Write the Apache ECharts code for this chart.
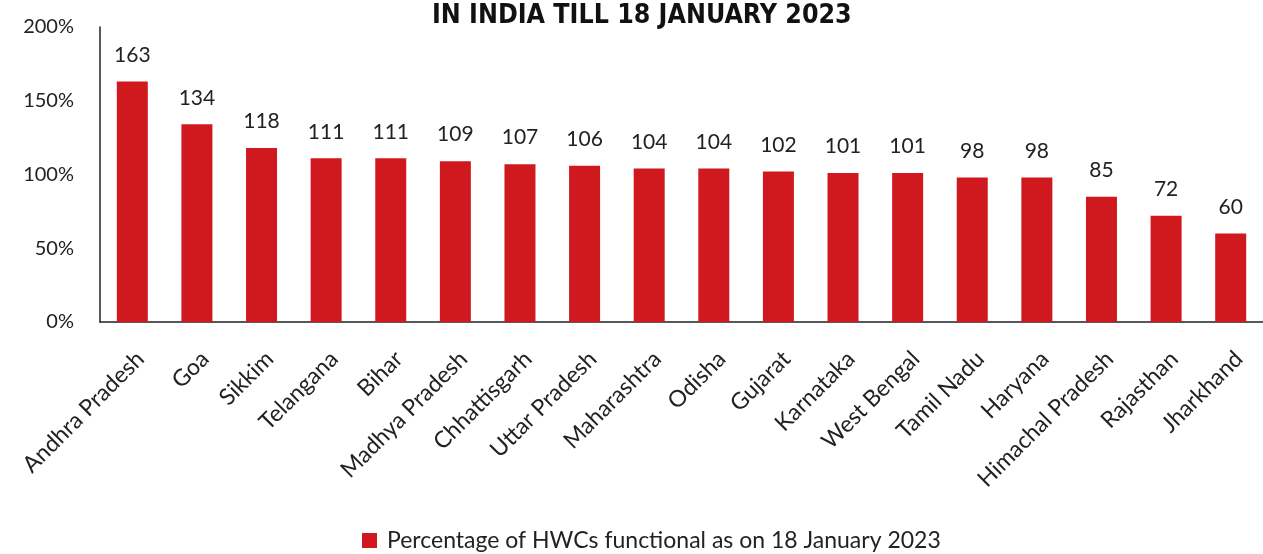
<!DOCTYPE html>
<html><head><meta charset="utf-8">
<script src="https://cdn.jsdelivr.net/npm/echarts@6/dist/echarts.min.js"></script>
<style>html,body{margin:0;padding:0;background:#fff}#c{width:1263px;height:554px}</style>
</head><body><div id="c"></div>
<script>
const categories = ['Andhra Pradesh','Goa','Sikkim','Telangana','Bihar','Madhya Pradesh','Chhattisgarh','Uttar Pradesh','Maharashtra','Odisha','Gujarat','Karnataka','West Bengal','Tamil Nadu','Haryana','Himachal Pradesh','Rajasthan','Jharkhand'];
const values = [163,134,118,111,111,109,107,106,104,104,102,101,101,98,98,85,72,60];
const seriesName = 'Percentage of HWCs functional as on 18 January 2023';
const titleText = 'IN INDIA TILL 18 JANUARY 2023';
const yTicks = [0,50,100,150,200];

const font = 'Lato';
const chart = echarts.init(document.getElementById('c'));
chart.setOption({
  animation:false,
  title:{text:titleText,left:427,top:-2,textStyle:{fontFamily:'DejaVu Sans Condensed, DejaVu Sans',fontWeight:'bold',fontSize:26.5,color:'#111'}},
  legend:{bottom:-3,left:357,itemWidth:15,itemHeight:15,itemGap:6,icon:'rect',textStyle:{fontFamily:font,fontSize:23,color:'#222',padding:[0,0,0,5]},data:[seriesName]},
  grid:{left:100,right:-12,top:27,bottom:232,containLabel:false},
  xAxis:{type:'category',data:categories,
    axisLine:{lineStyle:{color:'#222',width:1.5}},axisTick:{show:false},
    axisLabel:{rotate:45,interval:0,fontFamily:font,fontSize:23,color:'#222',margin:25,verticalAlign:'top',align:'right'}},
  yAxis:{type:'value',min:yTicks[0],max:yTicks[yTicks.length-1],interval:50,
    axisLine:{show:true,lineStyle:{color:'#222',width:1.5}},axisTick:{show:false},splitLine:{show:false},
    axisLabel:{formatter:'{value}%',fontFamily:font,fontSize:20,color:'#222',margin:26}},
  series:[{name:seriesName,type:'bar',data:values,barWidth:31,itemStyle:{color:'#D0191F'},
    label:{show:true,position:'top',distance:16,fontFamily:font,fontSize:21,color:'#222'}}]
});
</script></body></html>
